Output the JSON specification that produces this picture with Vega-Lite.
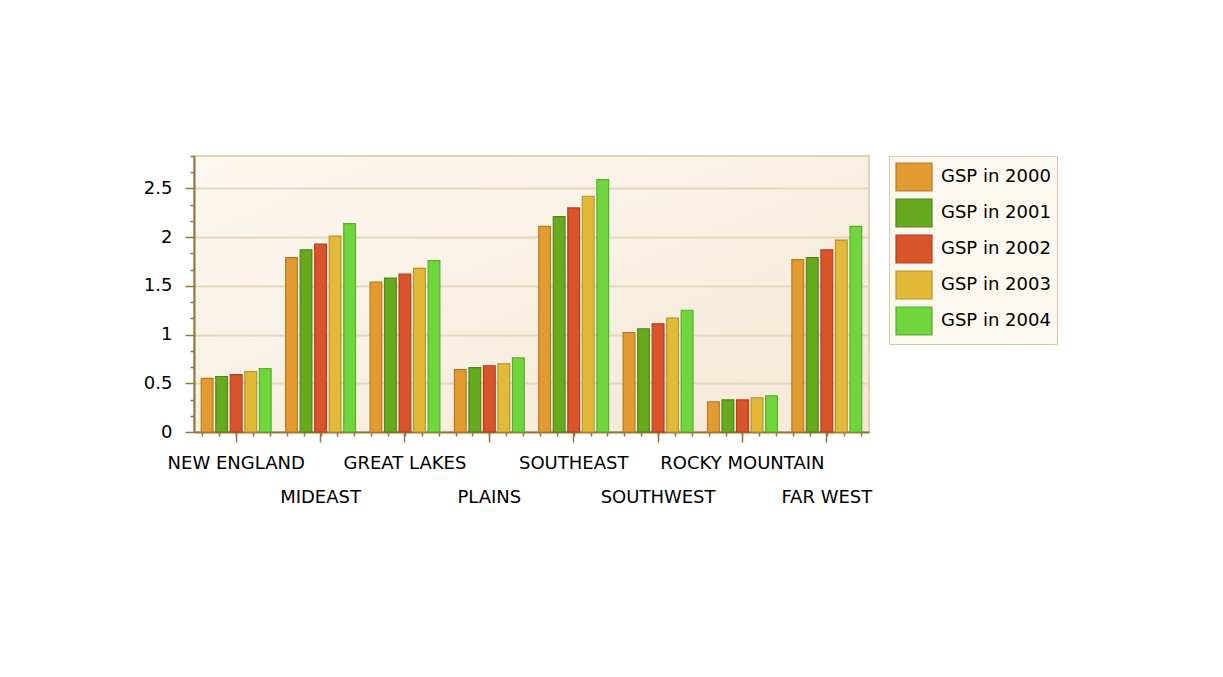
{
  "$schema": "https://vega.github.io/schema/vega-lite/v6.json",
  "width": 675,
  "height": 276,
  "autosize": {"type": "none"},
  "padding": {"left": 194, "top": 156, "right": 354, "bottom": 245},
  "background": "white",
  "config": {
    "font": "DejaVu Sans",
    "view": {
      "fill": {"gradient": "linear", "x1": 0, "y1": 0, "x2": 1, "y2": 1, "stops": [{"offset": 0, "color": "#FCF8F1"}, {"offset": 1, "color": "#F4E8D5"}]},
      "stroke": "#E2D2B2",
      "strokeWidth": 2
    }
  },
  "data": {
    "values": [
      {"region": "NEW ENGLAND", "series": "GSP in 2000", "value": 0.55},
      {"region": "NEW ENGLAND", "series": "GSP in 2001", "value": 0.57},
      {"region": "NEW ENGLAND", "series": "GSP in 2002", "value": 0.59},
      {"region": "NEW ENGLAND", "series": "GSP in 2003", "value": 0.62},
      {"region": "NEW ENGLAND", "series": "GSP in 2004", "value": 0.65},
      {"region": "MIDEAST", "series": "GSP in 2000", "value": 1.79},
      {"region": "MIDEAST", "series": "GSP in 2001", "value": 1.87},
      {"region": "MIDEAST", "series": "GSP in 2002", "value": 1.93},
      {"region": "MIDEAST", "series": "GSP in 2003", "value": 2.01},
      {"region": "MIDEAST", "series": "GSP in 2004", "value": 2.14},
      {"region": "GREAT LAKES", "series": "GSP in 2000", "value": 1.54},
      {"region": "GREAT LAKES", "series": "GSP in 2001", "value": 1.58},
      {"region": "GREAT LAKES", "series": "GSP in 2002", "value": 1.62},
      {"region": "GREAT LAKES", "series": "GSP in 2003", "value": 1.68},
      {"region": "GREAT LAKES", "series": "GSP in 2004", "value": 1.76},
      {"region": "PLAINS", "series": "GSP in 2000", "value": 0.64},
      {"region": "PLAINS", "series": "GSP in 2001", "value": 0.66},
      {"region": "PLAINS", "series": "GSP in 2002", "value": 0.68},
      {"region": "PLAINS", "series": "GSP in 2003", "value": 0.70},
      {"region": "PLAINS", "series": "GSP in 2004", "value": 0.76},
      {"region": "SOUTHEAST", "series": "GSP in 2000", "value": 2.11},
      {"region": "SOUTHEAST", "series": "GSP in 2001", "value": 2.21},
      {"region": "SOUTHEAST", "series": "GSP in 2002", "value": 2.30},
      {"region": "SOUTHEAST", "series": "GSP in 2003", "value": 2.42},
      {"region": "SOUTHEAST", "series": "GSP in 2004", "value": 2.59},
      {"region": "SOUTHWEST", "series": "GSP in 2000", "value": 1.02},
      {"region": "SOUTHWEST", "series": "GSP in 2001", "value": 1.06},
      {"region": "SOUTHWEST", "series": "GSP in 2002", "value": 1.11},
      {"region": "SOUTHWEST", "series": "GSP in 2003", "value": 1.17},
      {"region": "SOUTHWEST", "series": "GSP in 2004", "value": 1.25},
      {"region": "ROCKY MOUNTAIN", "series": "GSP in 2000", "value": 0.31},
      {"region": "ROCKY MOUNTAIN", "series": "GSP in 2001", "value": 0.33},
      {"region": "ROCKY MOUNTAIN", "series": "GSP in 2002", "value": 0.33},
      {"region": "ROCKY MOUNTAIN", "series": "GSP in 2003", "value": 0.35},
      {"region": "ROCKY MOUNTAIN", "series": "GSP in 2004", "value": 0.37},
      {"region": "FAR WEST", "series": "GSP in 2000", "value": 1.77},
      {"region": "FAR WEST", "series": "GSP in 2001", "value": 1.79},
      {"region": "FAR WEST", "series": "GSP in 2002", "value": 1.87},
      {"region": "FAR WEST", "series": "GSP in 2003", "value": 1.97},
      {"region": "FAR WEST", "series": "GSP in 2004", "value": 2.11}
    ]
  },
  "layer": [
    {
      "mark": {"type": "bar", "strokeWidth": 1.2},
      "encoding": {
        "x": {
          "field": "region", "type": "nominal", "sort": null,
          "scale": {"paddingInner": 0, "paddingOuter": 0},
          "axis": {
            "title": null,
            "orient": "bottom",
            "domainColor": "#957341", "domainWidth": 2,
            "tickColor": "#957341", "tickWidth": 1.5, "tickSize": 10,
            "labelAngle": 0, "labelFont": "DejaVu Sans", "labelFontSize": 18, "labelColor": "#000000",
            "labelBaseline": "top", "labelOverlap": false, "labelLimit": 400,
            "labelPadding": {"condition": {"test": "indexof(['MIDEAST','PLAINS','SOUTHWEST','FAR WEST'], datum.value) >= 0", "value": 46}, "value": 12},
            "grid": false
          }
        },
        "xOffset": {
          "field": "series", "type": "nominal",
          "scale": {"paddingInner": 0.19, "paddingOuter": 0.5}
        },
        "y": {
          "field": "value", "type": "quantitative",
          "scale": {"domain": [0, 2.8333333], "nice": false, "zero": true},
          "axis": {
            "title": null,
            "values": [0, 0.1666667, 0.3333333, 0.5, 0.6666667, 0.8333333, 1, 1.1666667, 1.3333333, 1.5, 1.6666667, 1.8333333, 2, 2.1666667, 2.3333333, 2.5, 2.6666667, 2.8333333],
            "labelExpr": "abs(datum.value*2 - round(datum.value*2)) < 0.001 ? format(round(datum.value*2)/2, '~g') : ''",
            "domainColor": "#957341", "domainWidth": 2,
            "tickColor": "#957341", "tickWidth": 1.5,
            "tickSize": {"condition": {"test": "abs(datum.value*2 - round(datum.value*2)) < 0.001", "value": 9}, "value": 4},
            "labelFont": "DejaVu Sans", "labelFontSize": 18, "labelColor": "#000000", "labelPadding": 13,
            "labelOverlap": false,
            "grid": true, "gridColor": "#E6D7BD", "gridWidth": 2,
            "gridOpacity": {"condition": {"test": "abs(datum.value*2 - round(datum.value*2)) < 0.001 && datum.value > 0.01", "value": 1}, "value": 0}
          }
        },
        "fill": {
          "field": "series", "type": "nominal",
          "scale": {"domain": ["GSP in 2000", "GSP in 2001", "GSP in 2002", "GSP in 2003", "GSP in 2004"], "range": ["#E19B31", "#67A91F", "#D9542B", "#E2BA38", "#71D63D"]},
          "legend": {
            "title": null, "orient": "none", "legendX": 695, "legendY": 0,
            "padding": 6, "rowPadding": 2, "labelOffset": 16,
            "symbolType": "M-1,-1H1.571V1H-1Z", "symbolSize": 784, "symbolStrokeWidth": 1.2,
            "labelFont": "DejaVu Sans", "labelFontSize": 18, "labelColor": "#000000", "labelLimit": 300,
            "strokeColor": "#DCC8A0", "fillColor": "#FCF8F0"
          }
        },
        "stroke": {
          "field": "series", "type": "nominal",
          "scale": {"domain": ["GSP in 2000", "GSP in 2001", "GSP in 2002", "GSP in 2003", "GSP in 2004"], "range": ["#B97B22", "#4F8A14", "#B23E1D", "#B8952A", "#57B02D"]},
          "legend": {
            "title": null, "orient": "none", "legendX": 695, "legendY": 0,
            "padding": 6, "rowPadding": 2, "labelOffset": 16,
            "symbolType": "M-1,-1H1.571V1H-1Z", "symbolSize": 784, "symbolStrokeWidth": 1.2,
            "labelFont": "DejaVu Sans", "labelFontSize": 18, "labelColor": "#000000", "labelLimit": 300,
            "strokeColor": "#DCC8A0", "fillColor": "#FCF8F0"
          }
        }
      }
    },
    {
      "mark": {"type": "rule", "opacity": 0},
      "encoding": {
        "x": {
          "datum": 0, "type": "quantitative",
          "scale": {"domain": [0, 40], "nice": false, "zero": false},
          "axis": {
            "title": null, "orient": "bottom",
            "values": [0.5, 1.5, 2.5, 3.5, 4.5, 5.5, 6.5, 7.5, 8.5, 9.5, 10.5, 11.5, 12.5, 13.5, 14.5, 15.5, 16.5, 17.5, 18.5, 19.5, 20.5, 21.5, 22.5, 23.5, 24.5, 25.5, 26.5, 27.5, 28.5, 29.5, 30.5, 31.5, 32.5, 33.5, 34.5, 35.5, 36.5, 37.5, 38.5, 39.5],
            "labels": false, "domain": false, "grid": false,
            "tickColor": "#957341", "tickWidth": 1.5, "tickSize": 4
          }
        }
      }
    }
  ],
  "resolve": {"scale": {"x": "independent"}, "axis": {"x": "independent"}}
}
